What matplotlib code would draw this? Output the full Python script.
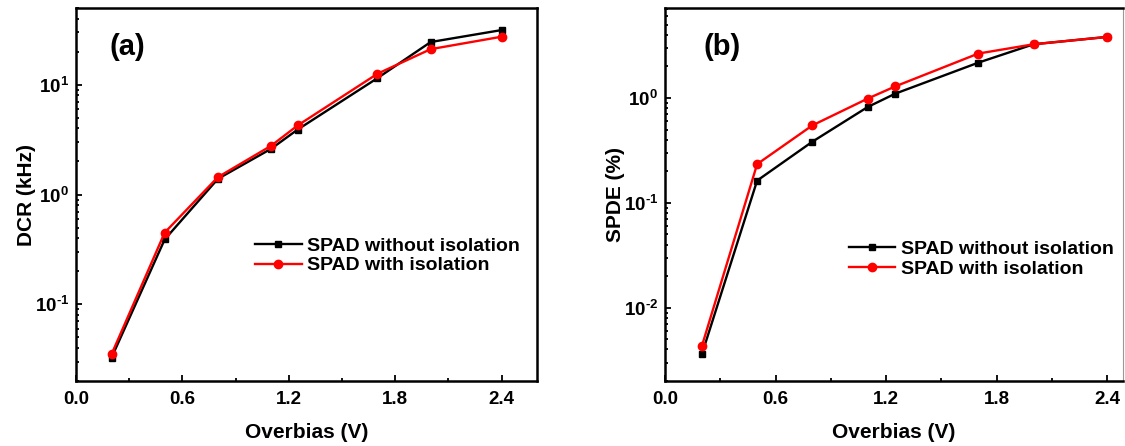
import matplotlib
matplotlib.use("Agg")
import matplotlib.pyplot as plt
import numpy as np
from matplotlib.ticker import LogLocator, MultipleLocator, NullFormatter, FuncFormatter

plt.rcParams['font.family'] = ['Liberation Sans', 'DejaVu Sans']
plt.rcParams['font.weight'] = 'bold'
plt.rcParams['mathtext.fontset'] = 'custom'
plt.rcParams['mathtext.rm'] = 'Liberation Sans:bold'
plt.rcParams['mathtext.it'] = 'Liberation Sans:bold'
plt.rcParams['mathtext.bf'] = 'Liberation Sans:bold'
plt.rcParams['mathtext.default'] = 'rm'
plt.rcParams['axes.unicode_minus'] = False

# Data
overbias = [0.2, 0.5, 0.8, 1.1, 1.25, 1.7, 2.0, 2.4]
dcr_without = [0.0326, 0.39, 1.39, 2.61, 3.91, 11.5, 24.5, 31.5]
dcr_with = [0.035, 0.45, 1.44, 2.78, 4.26, 12.6, 21.1, 27.4]
spde_without = [0.00359, 0.163, 0.383, 0.82, 1.10, 2.17, 3.25, 3.82]
spde_with = [0.0043, 0.234, 0.548, 0.986, 1.29, 2.65, 3.25, 3.82]
labels = ["SPAD without isolation", "SPAD with isolation"]
x_ticks = [0.0, 0.6, 1.2, 1.8, 2.4]

def log_fmt(v, pos):
    e = int(round(np.log10(v)))
    if e < 0:
        return r'$10^{\text{-}%d}$' % (-e)
    return r'$10^{%d}$' % e

fig = plt.figure(figsize=(11.25, 4.46), dpi=100)
axa = fig.add_axes([0.0676, 0.1457, 0.4098, 0.8363])
axb = fig.add_axes([0.5911, 0.1457, 0.4071, 0.8363])

def style(ax, ylabel, ylim, xmax):
    ax.set_yscale('log')
    ax.set_xlim(0, xmax)
    ax.set_ylim(*ylim)
    ax.set_xticks(x_ticks)
    ax.set_xticklabels([f"{t:.1f}" for t in x_ticks])
    ax.xaxis.set_minor_locator(MultipleLocator(0.3))
    ax.yaxis.set_major_locator(LogLocator(base=10, numticks=20))
    ax.yaxis.set_major_formatter(FuncFormatter(log_fmt))
    ax.yaxis.set_minor_locator(LogLocator(base=10, subs=range(2, 10), numticks=20))
    ax.yaxis.set_minor_formatter(NullFormatter())
    ax.tick_params(which='both', direction='in', top=False, right=False,
                   width=1.3, labelsize=13.5)
    ax.tick_params(which='major', length=4)
    ax.tick_params(which='minor', length=2.4)
    ax.tick_params(axis='x', which='major', pad=7)
    ax.tick_params(axis='y', which='major', pad=5)
    for s in ax.spines.values():
        s.set_linewidth(1.8)
    ax.set_xlabel("Overbias (V)", fontsize=15, fontweight='bold', labelpad=11)
    ax.set_ylabel(ylabel, fontsize=15, fontweight='bold', labelpad=-1)

def draw(ax, y1, y2, lx, ly):
    ax.plot(overbias, y1, color='black', lw=1.7, marker='s', ms=5, label=labels[0])
    ax.plot(overbias, y2, color='#ff0000', lw=1.7, marker='o', ms=6, label=labels[1])
    ax.legend(loc='center left', bbox_to_anchor=(lx, ly), frameon=False,
              handlelength=2.4, handletextpad=0.3,
              labelspacing=0.12, borderpad=0, borderaxespad=0,
              prop={'weight': 'bold', 'size': 14})

draw(axa, dcr_without, dcr_with, 0.388, 0.336)
style(axa, "DCR (kHz)", (0.02, 50), 2.6)
axa.text(0.112, 0.896, "(a)", transform=axa.transAxes, fontsize=21,
         fontweight='bold', ha='center', va='center')

draw(axb, spde_without, spde_with, 0.401, 0.327)
style(axb, "SPDE (%)", (0.002, 7.2), 2.485)
axb.spines['right'].set_linewidth(0.8)
axb.spines['right'].set_color('#999999')
axb.text(0.124, 0.896, "(b)", transform=axb.transAxes, fontsize=21,
         fontweight='bold', ha='center', va='center')

fig.savefig("out.png", dpi=100)
